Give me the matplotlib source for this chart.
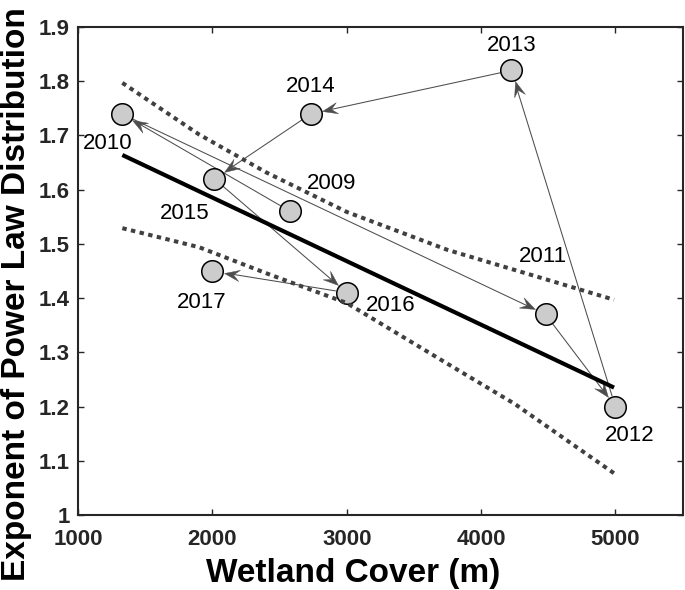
import numpy as np
import matplotlib
matplotlib.use("Agg")
import matplotlib.pyplot as plt
from matplotlib.path import Path
from matplotlib.markers import MarkerStyle
from matplotlib.transforms import Affine2D

# ---------------- data ----------------
years = [2009, 2010, 2011, 2012, 2013, 2014, 2015, 2016, 2017]
wetland = [2580, 1325, 4480, 5000, 4225, 2735, 2015, 3000, 2000]
exponent = [1.56, 1.74, 1.37, 1.20, 1.82, 1.74, 1.62, 1.41, 1.45]

fit_x = [1330, 4990]
fit_y = [1.664, 1.235]

band_x = [1330, 1900, 2400, 3000, 3750, 4250, 4990]
upper_y = [1.797, 1.702, 1.632, 1.559, 1.489, 1.452, 1.397]
lower_y = [1.529, 1.494, 1.446, 1.391, 1.279, 1.205, 1.077]

x_ticks = [1000, 2000, 3000, 4000, 5000]
x_tick_labels = ["1000", "2000", "3000", "4000", "5000"]
y_ticks = [1.0, 1.1, 1.2, 1.3, 1.4, 1.5, 1.6, 1.7, 1.8, 1.9]
y_tick_labels = ["1", "1.1", "1.2", "1.3", "1.4", "1.5", "1.6", "1.7", "1.8", "1.9"]

# label offsets (points) for year annotations
label_offsets = [(30, 20), (-10, -21.5), (-2, 41.5), (10, -21), (0, 18),
                 (0, 19.5), (-21.5, -25), (31.5, -9.5), (-8, -22.5)]

# ---------------- style ----------------
plt.rcParams['font.family'] = ['Liberation Sans', 'DejaVu Sans']

fig = plt.figure(figsize=(6.85, 5.90), dpi=100)
ax = fig.add_axes([0.1139, 0.1271, 0.8825, 0.8271])
ax.set_xlim(1000, 5500)
ax.set_ylim(1.0, 1.9)

axis_col = '#262626'
for sp in ax.spines.values():
    sp.set_color(axis_col)
    sp.set_linewidth(1.5)

ax.set_xticks(x_ticks)
ax.set_xticklabels(x_tick_labels, fontsize=16, fontweight='bold', color=axis_col)
ax.set_yticks(y_ticks)
ax.set_yticklabels(y_tick_labels, fontsize=16, fontweight='bold', color=axis_col)
ax.tick_params(axis='both', direction='in', length=4.5, width=1.0, color=axis_col,
               top=True, right=True)
ax.tick_params(axis='x', pad=10)
ax.tick_params(axis='y', pad=6)

ax.set_xlabel('Wetland Cover (m)', fontsize=24, fontweight='bold')
ax.xaxis.set_label_coords(0.455, -0.088)
ax.set_ylabel('Exponent of Power Law Distribution', fontsize=24, fontweight='bold')
ax.yaxis.set_label_coords(-0.076, 0.452)

# ---------------- marks ----------------
marker_pt = 15.5
edge_pt = 1.1
ax.plot(wetland, exponent, linestyle='none', marker='o', markersize=marker_pt,
        markerfacecolor='#cccccc', markeredgecolor='black', markeredgewidth=edge_pt,
        zorder=3)

ax.plot(fit_x, fit_y, color='black', linewidth=3.0, solid_capstyle='butt', zorder=4)
ax.plot(band_x, upper_y, color='#404040', linewidth=2.9, linestyle=(0, (1.1, 1.1)),
        dash_capstyle='butt', zorder=4)
ax.plot(band_x, lower_y, color='#404040', linewidth=2.9, linestyle=(0, (1.1, 1.1)),
        dash_capstyle='butt', zorder=4)

# arrows between consecutive years
px_per_pt = fig.dpi / 72.0
r_px = (marker_pt / 2 + edge_pt / 2) * px_per_pt
head_len_pt = 11.0
notch = 0.6
head_path = Path([(0, 0), (-1, 0.37), (-notch, 0), (-1, -0.37), (0, 0)],
                 [Path.MOVETO, Path.LINETO, Path.LINETO, Path.LINETO, Path.CLOSEPOLY])
pts = ax.transData.transform(np.column_stack([wetland, exponent]))
inv = ax.transData.inverted()
arrow_col = '#4d4d4d'
for i in range(len(years) - 1):
    p0, p1 = pts[i], pts[i + 1]
    d = p1 - p0
    u = d / np.hypot(d[0], d[1])
    start = p0 + u * r_px
    tip = p1 - u * r_px
    back = tip - u * head_len_pt * px_per_pt * notch
    s_d, t_d, b_d = inv.transform(np.array([start, tip, back]))
    ax.plot([s_d[0], b_d[0]], [s_d[1], b_d[1]], color=arrow_col, linewidth=0.75, zorder=2)
    ang = np.degrees(np.arctan2(u[1], u[0]))
    ms = MarkerStyle(head_path, transform=Affine2D().rotate_deg(ang))
    ax.plot([t_d[0]], [t_d[1]], linestyle='none', marker=ms, markersize=head_len_pt * 2,
            markerfacecolor=arrow_col, markeredgecolor=arrow_col, markeredgewidth=0.3,
            zorder=2.5)

for yr, xv, yv, off in zip(years, wetland, exponent, label_offsets):
    ax.annotate(str(yr), xy=(xv, yv), xytext=off, textcoords='offset points',
                ha='center', va='center', fontsize=16, color='black', zorder=5)

fig.savefig('out.png', dpi=100)
